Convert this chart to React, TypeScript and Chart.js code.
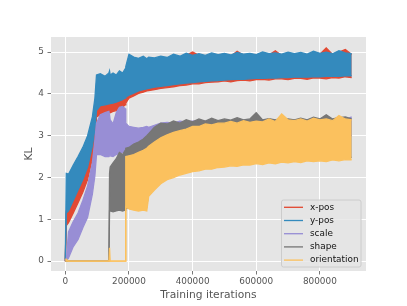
import React, { useEffect, useRef } from 'react';
import { Chart, registerables } from 'chart.js';

Chart.register(...registerables);

// Training iterations at which the band envelopes were read
const ITERATIONS = [
  0, 3000, 10000, 25000, 40000, 55000, 70000, 85000, 93000, 98000,
  110000, 125000, 137000, 139000, 141000, 150000, 160000, 170000, 180000, 188000,
  190000, 200000, 215000, 230000, 245000, 256000, 262000, 280000, 300000, 320000,
  340000, 360000, 380000, 400000, 420000, 440000, 460000, 480000, 500000, 520000,
  540000, 560000, 580000, 600000, 620000, 640000, 660000, 680000, 700000, 720000,
  740000, 760000, 780000, 800000, 820000, 840000, 860000, 880000, 900000,
];

// x-pos KL (upper / lower envelope of the noisy trace)
const XPOS_HI = [
  0, 1.2, 1.3, 1.55, 1.8, 2.05, 2.35, 2.85, 3.3, 3.75,
  3.85, 3.85, 3.85, 3.85, 3.85, 3.87, 3.9, 3.92, 3.95, 4.0,
  4.05, 4.85, 4.85, 4.8, 4.85, 4.8, 4.85, 4.82, 4.86, 4.85,
  4.9, 4.88, 4.92, 5.0, 4.92, 4.9, 4.95, 4.92, 4.95, 4.9,
  5.02, 4.92, 4.95, 4.92, 4.97, 4.93, 5.03, 4.92, 4.97, 4.93,
  4.96, 4.93, 5.0, 4.95, 5.1, 4.94, 5.0, 5.06, 4.94,
];
const XPOS_LO = [
  0, 0.85, 0.92, 1.15, 1.4, 1.65, 1.95, 2.45, 2.85, 3.45,
  3.5, 3.52, 3.55, 3.56, 3.55, 3.58, 3.6, 3.64, 3.68, 3.74,
  3.78, 3.9, 3.95, 4.01, 4.04, 4.07, 4.08, 4.1, 4.13, 4.15,
  4.17, 4.2, 4.21, 4.24, 4.24, 4.27, 4.28, 4.29, 4.31, 4.29,
  4.32, 4.33, 4.31, 4.34, 4.35, 4.33, 4.36, 4.36, 4.34, 4.37,
  4.37, 4.35, 4.38, 4.38, 4.36, 4.39, 4.38, 4.41, 4.39,
];

// y-pos KL
const YPOS_HI = [
  0.05, 2.1, 2.08, 2.3, 2.5, 2.72, 3.0, 3.45, 3.9, 4.45,
  4.48, 4.42, 4.5, 4.55, 4.45, 4.5, 4.45, 4.55, 4.5, 4.6,
  4.65, 4.95, 4.88, 4.85, 4.9, 4.84, 4.88, 4.86, 4.9, 4.87,
  4.95, 4.9, 4.97, 4.92, 4.96, 4.92, 4.98, 4.94, 4.97, 4.93,
  4.99, 4.95, 4.97, 4.94, 5.0, 4.96, 4.98, 4.95, 5.0, 4.96,
  4.99, 4.95, 5.02, 4.97, 5.0, 4.96, 5.03, 4.98, 4.96,
];
const YPOS_LO = [
  0, 1.15, 1.2, 1.45, 1.7, 1.95, 2.25, 2.75, 3.15, 3.6,
  3.72, 3.74, 3.76, 3.76, 3.77, 3.78, 3.8, 3.83, 3.86, 3.9,
  3.92, 3.97, 4.02, 4.07, 4.1, 4.12, 4.13, 4.16, 4.18, 4.2,
  4.22, 4.24, 4.26, 4.27, 4.29, 4.3, 4.31, 4.32, 4.33, 4.34,
  4.35, 4.35, 4.36, 4.37, 4.37, 4.38, 4.38, 4.39, 4.39, 4.4,
  4.4, 4.4, 4.41, 4.41, 4.42, 4.42, 4.42, 4.43, 4.43,
];

// scale KL
const SCALE_HI = [
  0, 0, 0.7, 0.95, 1.15, 1.45, 1.8, 2.35, 2.9, 3.3,
  3.5, 3.55, 3.58, 3.5, 3.38, 3.28, 3.55, 3.68, 3.7, 3.65,
  3.3, 3.22, 3.2, 3.18, 3.2, 3.22, 3.2, 3.25, 3.3, 3.32,
  3.3, 3.35, 3.33, 3.35, 3.36, 3.34, 3.37, 3.35, 3.36, 3.34,
  3.37, 3.35, 3.36, 3.35, 3.38, 3.35, 3.37, 3.36, 3.38, 3.36,
  3.38, 3.36, 3.4, 3.37, 3.38, 3.37, 3.46, 3.38, 3.45,
];
const SCALE_LO = [
  0, 0, 0.08, 0.35, 0.52, 0.8, 1.05, 1.6, 2.05, 2.55,
  2.55, 2.5, 2.5, 2.52, 2.52, 2.5, 2.55, 2.58, 2.6, 2.62,
  2.65, 2.7, 2.72, 2.75, 2.78, 2.8, 2.82, 2.85, 2.9, 2.95,
  2.95, 2.96, 2.97, 2.97, 2.98, 2.98, 2.99, 2.99, 3.0, 3.0,
  3.0, 3.0, 3.0, 3.0, 3.0, 3.0, 3.0, 3.0, 3.0, 3.0,
  3.0, 3.0, 3.0, 3.0, 3.0, 3.0, 3.0, 3.0, 3.0,
];

// shape KL
const SHAPE_HI = [
  0, 0, 0, 0, 0, 0, 0, 0, 0, 0,
  0, 0, 0, 2.1, 2.25, 2.35, 2.45, 2.6, 2.55, 2.65,
  2.7, 2.72, 2.8, 2.85, 2.92, 3.0, 3.05, 3.2, 3.3, 3.28,
  3.35, 3.3, 3.38, 3.33, 3.4, 3.35, 3.42, 3.36, 3.4, 3.37,
  3.43, 3.38, 3.4, 3.55, 3.38, 3.41, 3.38, 3.42, 3.4, 3.38,
  3.42, 3.38, 3.44, 3.4, 3.5, 3.4, 3.43, 3.45, 3.4,
];
const SHAPE_LO = [
  0, 0, 0, 0, 0, 0, 0, 0, 0, 0,
  0, 0, 0, 1.2, 1.2, 1.18, 1.2, 1.22, 1.2, 1.22,
  1.25, 1.3, 1.3, 1.3, 1.3, 1.3, 1.65, 1.8, 1.95, 2.05,
  2.1, 2.15, 2.2, 2.22, 2.25, 2.28, 2.3, 2.32, 2.33, 2.35,
  2.35, 2.38, 2.38, 2.4, 2.4, 2.42, 2.42, 2.44, 2.44, 2.45,
  2.45, 2.46, 2.46, 2.47, 2.47, 2.48, 2.48, 2.48, 2.48,
];

// orientation KL
const ORIENT_HI = [
  0.05, 0.05, 0, 0, 0, 0, 0, 0, 0, 0,
  0, 0, 0, 0.32, 0, 0, 0, 0, 0, 0,
  2.5, 2.52, 2.55, 2.6, 2.65, 2.7, 2.75, 2.85, 2.95, 3.02,
  3.08, 3.12, 3.16, 3.22, 3.22, 3.28, 3.26, 3.3, 3.3, 3.34,
  3.3, 3.36, 3.32, 3.35, 3.33, 3.4, 3.34, 3.52, 3.38, 3.36,
  3.4, 3.35, 3.42, 3.38, 3.4, 3.36, 3.48, 3.4, 3.38,
];
const ORIENT_LO = [
  0, 0, 0, 0, 0, 0, 0, 0, 0, 0,
  0, 0, 0, 0, 0, 0, 0, 0, 0, 0,
  1.3, 1.25, 1.22, 1.2, 1.22, 1.2, 1.55, 1.7, 1.85, 1.95,
  2.0, 2.06, 2.1, 2.14, 2.16, 2.2, 2.2, 2.24, 2.25, 2.28,
  2.27, 2.3, 2.3, 2.33, 2.31, 2.35, 2.33, 2.37, 2.35, 2.38,
  2.36, 2.4, 2.38, 2.4, 2.38, 2.42, 2.4, 2.43, 2.42,
];

const SERIES_NAMES = ['x-pos', 'y-pos', 'scale', 'shape', 'orientation'];
const SERIES_COLORS = ['#E24A33', '#348ABD', '#988ED5', '#777777', '#FBC15E'];
const X_TICKS = [0, 200000, 400000, 600000, 800000];
const Y_TICKS = [0, 1, 2, 3, 4, 5];

const FONT = 'DejaVu Sans';

export default function App() {
  const ref = useRef<HTMLCanvasElement | null>(null);

  useEffect(() => {
    if (!ref.current) return;
    const highs = [XPOS_HI, YPOS_HI, SCALE_HI, SHAPE_HI, ORIENT_HI];
    const lows = [XPOS_LO, YPOS_LO, SCALE_LO, SHAPE_LO, ORIENT_LO];
    const datasets: any[] = [];
    SERIES_NAMES.forEach((name, i) => {
      const color = SERIES_COLORS[i];
      const common = {
        borderColor: color,
        backgroundColor: color,
        borderWidth: 1.3,
        pointRadius: 0,
        pointHoverRadius: 0,
        tension: 0,
        order: SERIES_NAMES.length - i,
      };
      datasets.push({
        ...common,
        label: name,
        data: ITERATIONS.map((x, j) => ({ x, y: highs[i][j] })),
        fill: '+1',
      });
      datasets.push({
        ...common,
        label: name + ' (low)',
        data: ITERATIONS.map((x, j) => ({ x, y: lows[i][j] })),
        fill: false,
      });
    });

    const axesBg = {
      id: 'axesBg',
      beforeDraw(chart: any) {
        const { ctx, chartArea } = chart;
        ctx.save();
        ctx.fillStyle = '#E5E5E5';
        ctx.fillRect(chartArea.left, chartArea.top, chartArea.right - chartArea.left, chartArea.bottom - chartArea.top);
        ctx.restore();
      },
    };

    const boxLegend = {
      id: 'boxLegend',
      afterDraw(chart: any) {
        const ctx = chart.ctx as CanvasRenderingContext2D;
        ctx.save();
        const x0 = 281.5, y0 = 200, w = 79.5, h = 67;
        ctx.beginPath();
        if ((ctx as any).roundRect) (ctx as any).roundRect(x0, y0, w, h, 2);
        else ctx.rect(x0, y0, w, h);
        ctx.fillStyle = 'rgba(229,229,229,0.8)';
        ctx.fill();
        ctx.strokeStyle = '#cccccc';
        ctx.lineWidth = 1;
        ctx.stroke();
        ctx.font = `8.9px "${FONT}"`;
        ctx.textBaseline = 'middle';
        ctx.textAlign = 'left';
        SERIES_NAMES.forEach((name, i) => {
          const y = 207.3 + i * 13.2;
          ctx.strokeStyle = SERIES_COLORS[i];
          ctx.lineWidth = 1.33;
          ctx.beginPath();
          ctx.moveTo(284, y);
          ctx.lineTo(303, y);
          ctx.stroke();
          ctx.fillStyle = '#111';
          ctx.fillText(name, 310, y);
        });
        ctx.restore();
      },
    };

    const tickFont = { family: FONT, size: 8.9 };
    const labelFont = { family: FONT, size: 10.7 };

    const chart = new Chart(ref.current, {
      type: 'line',
      data: { datasets },
      options: {
        responsive: false,
        animation: false,
        devicePixelRatio: 1,
        events: [],
        layout: { padding: { top: 37, right: 41, bottom: 0, left: 0 } },
        plugins: { legend: { display: false }, tooltip: { enabled: false } },
        scales: {
          x: {
            type: 'linear',
            min: -45000,
            max: 945000,
            afterBuildTicks: (s: any) => { s.ticks = X_TICKS.map((v) => ({ value: v })); },
            afterFit: (s: any) => { s.height = 35; },
            ticks: {
              color: '#555555',
              font: tickFont,
              padding: 2,
              maxRotation: 0,
              autoSkip: false,
              callback: (v: any) => String(v),
            },
            grid: { color: '#ffffff', lineWidth: 1, tickColor: '#555555', tickLength: 3.5, tickWidth: 0.8 },
            border: { display: false },
            title: {
              display: true,
              text: 'Training iterations',
              color: '#555555',
              font: labelFont,
              padding: { top: 0, bottom: 4.6 },
            },
          },
          y: {
            type: 'linear',
            min: -0.235,
            max: 5.36,
            afterBuildTicks: (s: any) => { s.ticks = Y_TICKS.map((v) => ({ value: v })); },
            afterFit: (s: any) => { s.width = 51; },
            ticks: {
              color: '#555555',
              font: tickFont,
              padding: 3.5,
              callback: (v: any) => String(v),
            },
            grid: { color: '#ffffff', lineWidth: 1, tickColor: '#555555', tickLength: 3.5, tickWidth: 0.8 },
            border: { display: false },
            title: {
              display: true,
              text: 'KL',
              color: '#555555',
              font: labelFont,
              padding: { top: 22.6, bottom: 0 },
            },
          },
        },
      } as any,
      plugins: [axesBg, boxLegend],
    });
    return () => chart.destroy();
  }, []);

  return (
    <div style={{ position: 'absolute', left: 0, top: 0, width: 407, height: 306, background: '#ffffff' }}>
      <canvas ref={ref} width={407} height={306} style={{ display: 'block', width: 407, height: 306 }} />
    </div>
  );
}
